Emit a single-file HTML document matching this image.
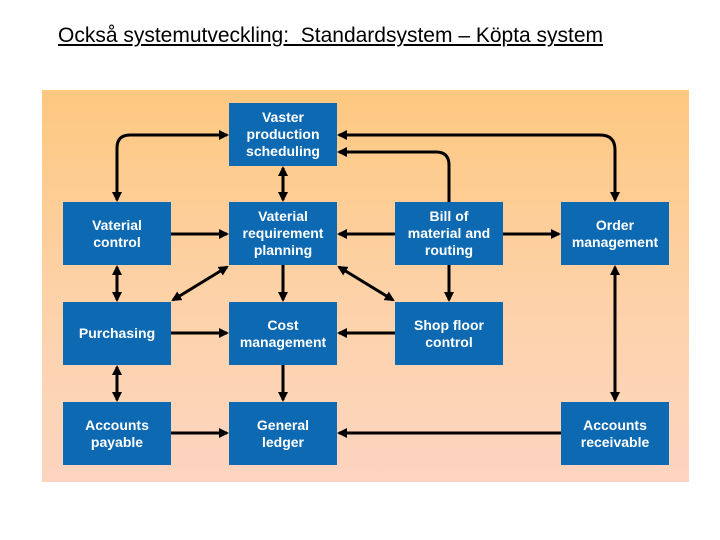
<!DOCTYPE html>
<html><head><meta charset="utf-8"><style>
body{margin:0;width:720px;height:540px;background:#fff;position:relative;overflow:hidden;font-family:"Liberation Sans",sans-serif}
.t{position:absolute;left:58px;top:24px;font-size:21px;text-decoration:underline;white-space:pre;color:#000}
.bg{position:absolute;left:42px;top:90px;width:647px;height:392px;background:linear-gradient(#fdc880,#fdd3ad 60%,#fcd4c0)}
.b{position:absolute;width:108px;height:63px;background:#0d69b1;color:#fff;font-weight:bold;font-size:14px;line-height:17px;display:flex;align-items:center;justify-content:center;text-align:center}
svg{position:absolute;left:0;top:0}
</style></head><body>
<div class="t">Också systemutveckling:  Standardsystem – Köpta system</div>
<div class="bg"></div>
<svg width="720" height="540"><defs><marker id="a" markerWidth="10" markerHeight="10" refX="8" refY="5" orient="auto-start-reverse" markerUnits="userSpaceOnUse"><path d="M0,0L10,5L0,10z" fill="#000"/></marker></defs>
<g stroke="#000" stroke-width="3" fill="none">
<path d="M117,200V148Q117,135 130,135H227" marker-start="url(#a)" marker-end="url(#a)"/>
<path d="M339,135H600Q615,135 615,150V200" marker-start="url(#a)" marker-end="url(#a)"/>
<path d="M449,202V165Q449,152 436,152H339" marker-end="url(#a)"/>
<path d="M283,168V200" marker-start="url(#a)" marker-end="url(#a)"/>
<path d="M171,234H227" marker-end="url(#a)"/>
<path d="M395,234H339" marker-end="url(#a)"/>
<path d="M503,234H559" marker-end="url(#a)"/>
<path d="M117,267V300" marker-start="url(#a)" marker-end="url(#a)"/>
<path d="M227,267L173,300" marker-start="url(#a)" marker-end="url(#a)"/>
<path d="M339,267L393,300" marker-start="url(#a)" marker-end="url(#a)"/>
<path d="M283,265V300" marker-end="url(#a)"/>
<path d="M449,265V300" marker-end="url(#a)"/>
<path d="M615,267V400" marker-start="url(#a)" marker-end="url(#a)"/>
<path d="M171,333H227" marker-end="url(#a)"/>
<path d="M395,333H339" marker-end="url(#a)"/>
<path d="M117,367V400" marker-start="url(#a)" marker-end="url(#a)"/>
<path d="M283,365V400" marker-end="url(#a)"/>
<path d="M171,433H227" marker-end="url(#a)"/>
<path d="M561,433H339" marker-end="url(#a)"/>
</g></svg>
<div class="b" style="left:229px;top:103px">Vaster<br>production<br>scheduling</div>
<div class="b" style="left:63px;top:202px">Vaterial<br>control</div>
<div class="b" style="left:229px;top:202px">Vaterial<br>requirement<br>planning</div>
<div class="b" style="left:395px;top:202px">Bill of<br>material and<br>routing</div>
<div class="b" style="left:561px;top:202px">Order<br>management</div>
<div class="b" style="left:63px;top:302px">Purchasing</div>
<div class="b" style="left:229px;top:302px">Cost<br>management</div>
<div class="b" style="left:395px;top:302px">Shop floor<br>control</div>
<div class="b" style="left:63px;top:402px">Accounts<br>payable</div>
<div class="b" style="left:229px;top:402px">General<br>ledger</div>
<div class="b" style="left:561px;top:402px">Accounts<br>receivable</div>
</body></html>
